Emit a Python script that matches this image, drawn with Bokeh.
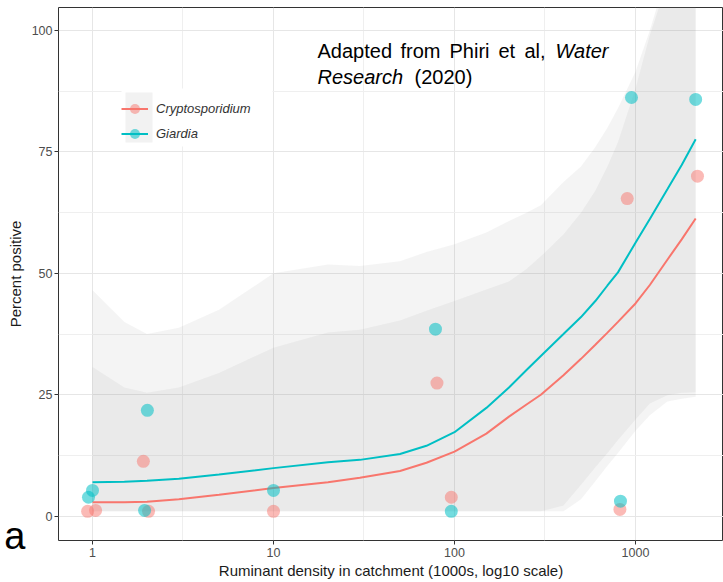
from bokeh.plotting import figure
from bokeh.models import (Range1d, FixedTicker, Label, Legend, LegendItem,
                          BoxAnnotation, PrintfTickFormatter, LinearAxis,
                          CustomJSTickFormatter)
from bokeh.embed import file_html
from bokeh.resources import INLINE

# ---------------- data ----------------
crypto_x = [0.94, 1.04, 1.91, 2.04, 10, 80, 96, 820, 900, 2200]
crypto_y = [1.0, 1.2, 11.3, 1.0, 1.0, 27.4, 3.9, 1.4, 65.4, 70.0]
giardia_x = [0.95, 1.0, 1.94, 2.01, 10, 78.5, 96, 826, 950, 2150]
giardia_y = [3.9, 5.3, 1.2, 21.8, 5.3, 38.5, 1.0, 3.1, 86.2, 85.8]

smooth_x = [1, 1.5, 2, 3, 5, 10, 20, 30, 50, 70, 100, 150, 200, 250, 300, 400,
            500, 600, 700, 800, 1000, 1200, 1500, 1800, 2150]
crypto_fit = [2.9, 2.9, 3.0, 3.5, 4.4, 5.8, 7.0, 7.9, 9.3, 11.0, 13.3, 17.0, 20.5,
              23.0, 25.0, 29.0, 32.4, 35.3, 37.8, 40.0, 43.8, 47.6, 52.8, 57.0, 61.3]
giardia_fit = [7.0, 7.1, 7.3, 7.7, 8.6, 9.9, 11.1, 11.6, 12.8, 14.5, 17.3, 22.3,
               26.5, 30.1, 33.0, 37.5, 41.0, 44.3, 47.5, 50.2, 56.3, 61.2, 67.3,
               72.3, 77.6]
giardia_upper = [46.5, 40.0, 37.5, 38.8, 42.5, 50.0, 51.8, 51.5, 52.5, 54.4, 56.0,
                 58.4, 60.8, 62.5, 64.0, 68.8, 72.0, 76.0, 80.0, 84.0, 91.5, 100.0,
                 112.0, 125.0, 140.0]
giardia_lower = [1.0, 1.0, 1.0, 1.0, 1.0, 1.0, 1.0, 1.0, 1.0, 1.0, 1.0, 1.0, 1.0,
                 1.0, 1.0, 1.0, 3.5, 7.2, 10.4, 13.0, 17.6, 20.8, 23.6, 24.2, 24.6]
crypto_upper = [30.7, 26.5, 25.4, 26.5, 29.5, 34.7, 37.8, 38.4, 40.3, 42.3, 44.3,
                46.7, 48.3, 50.9, 53.5, 58.0, 62.5, 67.0, 72.0, 77.0, 88.0, 99.0,
                110.0, 120.0, 135.0]
crypto_lower = [1.0, 1.0, 1.0, 1.0, 1.0, 1.0, 1.0, 1.0, 1.0, 1.0, 1.0, 1.0, 1.0,
                1.0, 1.0, 2.2, 6.5, 10.1, 13.0, 15.7, 19.9, 23.2, 24.9, 25.4, 25.5]

x_ticks = [1, 10, 100, 1000]
x_minor = [0.3162, 3.162, 31.62, 316.2, 3162]
y_ticks = [0, 25, 50, 75, 100]
y_minor = [12.5, 37.5, 62.5, 87.5]
tag_ticks = [-4]          # where the panel tag "a" sits (bottom of the panel)

PINK = "#F8766D"
TEAL = "#00BFC4"
FONT = "Liberation Sans"


# layout helpers: reference pixel -> data coordinate
def xv(px):
    return 10 ** ((px - 92) / 181.0)


def yv(py):
    return (516 - py) / 4.86


p = figure(width=723, height=582, x_axis_type="log",
           x_range=Range1d(xv(58), xv(723)), y_range=Range1d(-5, yv(7)),
           output_backend="svg", toolbar_location=None,
           min_border_left=58, min_border_right=0, min_border_top=7,
           min_border_bottom=42)

p.background_fill_color = "white"
p.border_fill_color = "white"
p.outline_line_color = "#333333"
p.outline_line_width = 1

# ribbons
p.varea(x=smooth_x, y1=giardia_lower, y2=giardia_upper,
        fill_color="#999999", fill_alpha=0.11)
p.varea(x=smooth_x, y1=crypto_lower, y2=crypto_upper,
        fill_color="#999999", fill_alpha=0.11)

# smooth lines
c_line = p.line(smooth_x, crypto_fit, line_color=PINK, line_width=2)
g_line = p.line(smooth_x, giardia_fit, line_color=TEAL, line_width=2)

# points
c_pts = p.scatter(crypto_x, crypto_y, size=13, fill_color=PINK, fill_alpha=0.5,
                  line_color=None)
g_pts = p.scatter(giardia_x, giardia_y, size=13, fill_color=TEAL, fill_alpha=0.55,
                  line_color=None)

# axes
for ax in (p.xaxis[0], p.yaxis[0]):
    ax.axis_line_color = None
    ax.major_tick_line_color = "#333333"
    ax.major_tick_out = 4
    ax.major_tick_in = 0
    ax.minor_tick_line_color = None
    ax.major_label_text_color = "#4D4D4D"
    ax.major_label_text_font = FONT
    ax.major_label_text_font_size = "12.5px"
    ax.major_label_standoff = 2
    ax.axis_label_text_font = FONT
    ax.axis_label_text_font_size = "15px"
    ax.axis_label_text_font_style = "normal"
    ax.axis_label_text_color = "#1A1A1A"
    ax.axis_label_standoff = 1

p.yaxis.axis_label_standoff = 5
p.xaxis.major_label_standoff = 3
p.xaxis.axis_label_standoff = 2

p.xaxis.ticker = FixedTicker(ticks=x_ticks, minor_ticks=x_minor)
p.xaxis.formatter = PrintfTickFormatter(format="%d")
p.yaxis.ticker = FixedTicker(ticks=y_ticks, minor_ticks=y_minor)
p.xaxis.axis_label = "Ruminant density in catchment (1000s, log10 scale)"
p.yaxis.axis_label = "Percent positive"

# panel tag "a" at the lower left, outside the panel
tag_axis = LinearAxis(ticker=FixedTicker(ticks=tag_ticks),
                      formatter=CustomJSTickFormatter(code="return 'a';"),
                      axis_line_color=None, major_tick_line_color=None,
                      minor_tick_line_color=None, major_tick_out=0, major_tick_in=0,
                      major_label_text_font=FONT, major_label_text_font_size="38px",
                      major_label_text_color="black", major_label_standoff=-22)
p.add_layout(tag_axis, "left")

for g in (p.xgrid[0], p.ygrid[0]):
    g.grid_line_color = "#E6E6E6"
    g.grid_line_width = 1
    g.minor_grid_line_color = "#EFEFEF"
    g.minor_grid_line_width = 1

# legend background and key background
p.add_layout(BoxAnnotation(left=xv(121), right=xv(272), top=yv(88), bottom=yv(146),
                           fill_color="white", fill_alpha=1, line_color=None))
p.add_layout(BoxAnnotation(left=xv(125), right=xv(152), top=yv(92), bottom=yv(142),
                           fill_color="#F2F2F2", fill_alpha=1, line_color=None))

legend = Legend(items=[LegendItem(label="Cryptosporidium", renderers=[c_line, c_pts]),
                       LegendItem(label="Giardia", renderers=[g_line, g_pts])],
                location=(63, 394), margin=0, padding=4, spacing=0,
                glyph_width=27, glyph_height=25, label_standoff=8,
                label_height=25,
                label_text_font=FONT, label_text_font_size="13px",
                label_text_font_style="italic", label_text_color="#333333",
                background_fill_alpha=0, border_line_color=None)
p.add_layout(legend, "center")


# annotation text, word by word
def lab(text, px, py, style="normal", size="20px"):
    p.add_layout(Label(x=xv(px), y=yv(py), text=text, text_font=FONT,
                       text_font_size=size, text_font_style=style,
                       text_color="black", text_baseline="alphabetic",
                       text_align="left"))


lab("Adapted", 317, 51)
lab("from", 400, 51)
lab("Phiri", 449, 51)
lab("et", 498, 51)
lab("al,", 524, 51)
lab("Water", 555, 51, style="italic")
lab("Research", 317, 77, style="italic")
lab("(2020)", 414, 77)

open("out.html", "w").write(file_html(p, INLINE))
